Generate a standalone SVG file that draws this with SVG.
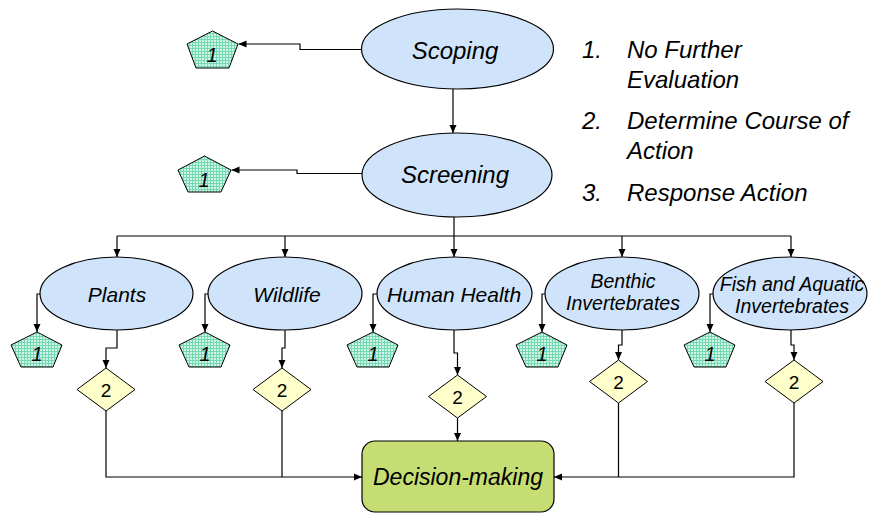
<svg xmlns="http://www.w3.org/2000/svg" width="871" height="513" viewBox="0 0 871 513">
  <style>
    text { font-family: "Liberation Sans", Arial, sans-serif; font-style: italic; fill: #000; }
    .stage { fill: #cfe4fb; stroke: #000; stroke-width: 1.2; }
    .pent { fill: url(#grid); stroke: #000; stroke-width: 1; }
    .dia { fill: #ffffcc; stroke: #000; stroke-width: 1; }
    .box { fill: #c6dd74; stroke: #000; stroke-width: 1.2; }
    .wire { fill: none; stroke: #000; stroke-width: 1.2; marker-end: url(#arrow); }
    .wire2 { fill: none; stroke: #000; stroke-width: 1.2; }
    .big { font-size: 24px; text-anchor: middle; }
    .mid { font-size: 21px; text-anchor: middle; }
    .two-line { font-size: 19.5px; text-anchor: middle; }
    .num { font-size: 20px; text-anchor: middle; }
    .two { font-size: 19px; text-anchor: middle; font-style: normal; }
    .leg { font-size: 24px; }
  </style>
  <defs>
    <pattern id="grid" width="3" height="3" patternUnits="userSpaceOnUse">
      <rect width="3" height="3" fill="#d0f4e6"/>
      <path d="M0,0.5 H3 M0.5,0 V3" stroke="#74d8b2" stroke-width="1"/>
    </pattern>
    <marker id="arrow" viewBox="0 0 8 8" refX="8" refY="4" markerWidth="8" markerHeight="8" markerUnits="userSpaceOnUse" orient="auto">
      <path d="M0,0.5 L8,4 L0,7.5 z" fill="#000"/>
    </marker>
  </defs>

  <!-- connectors -->
  <g id="connectors">
    <path class="wire" d="M362,49.5 H300 V44 H238.5"/>
    <path class="wire" d="M453,89 V133"/>
    <path class="wire" d="M362,173.5 H297 V170 H231.5"/>
    <path class="wire2" d="M454,217 V236 M117,236 H791"/>
    <path class="wire" d="M117,236 V257"/>
    <path class="wire" d="M285,236 V257"/>
    <path class="wire" d="M454,236 V257"/>
    <path class="wire" d="M622,236 V257"/>
    <path class="wire" d="M791,236 V257"/>
    <!-- to "1" pentagons -->
    <path class="wire" d="M40,294 H37 V332"/>
    <path class="wire" d="M208,294 H205 V332"/>
    <path class="wire" d="M377,294 H373 V332"/>
    <path class="wire" d="M545,294 H542 V332"/>
    <path class="wire" d="M713,294 H710 V332"/>
    <!-- to "2" diamonds -->
    <path class="wire" d="M117,330 V348 H106 V368"/>
    <path class="wire" d="M285,330 V348 H282 V368"/>
    <path class="wire" d="M454,330 V353 H457.5 V375"/>
    <path class="wire" d="M622,330 V345 H618.5 V360"/>
    <path class="wire" d="M791,330 V345 H794 V360"/>
    <!-- into decision-making -->
    <path class="wire2" d="M106,411 V477 H282 M282,411 V477"/>
    <path class="wire" d="M282,477 H362"/>
    <path class="wire2" d="M794,403 V477 H618.5 M618.5,403 V477"/>
    <path class="wire" d="M618.5,477 H554"/>
    <path class="wire" d="M457.5,418 V441"/>
  </g>

  <!-- main stages -->
  <g id="scoping">
    <ellipse class="stage" cx="457.5" cy="49" rx="96" ry="40"/>
    <text class="big" x="455" y="59">Scoping</text>
  </g>
  <g id="screening">
    <ellipse class="stage" cx="457" cy="175" rx="95" ry="42"/>
    <text class="big" x="455" y="183">Screening</text>
  </g>

  <g id="plants">
    <ellipse class="stage" cx="116.5" cy="293.5" rx="76.5" ry="36.5"/>
    <text class="mid" x="117" y="302">Plants</text>
  </g>
  <g id="wildlife">
    <ellipse class="stage" cx="285" cy="293.5" rx="77" ry="36.5"/>
    <text class="mid" x="287" y="302">Wildlife</text>
  </g>
  <g id="human-health">
    <ellipse class="stage" cx="454.5" cy="293.5" rx="77.5" ry="36.5"/>
    <text class="mid" x="454" y="302">Human Health</text>
  </g>
  <g id="benthic">
    <ellipse class="stage" cx="622" cy="293.5" rx="77" ry="36.5"/>
    <text class="two-line" x="623" y="288">Benthic</text>
    <text class="two-line" x="623" y="310">Invertebrates</text>
  </g>
  <g id="fish">
    <ellipse class="stage" cx="790" cy="293.5" rx="77" ry="36.5"/>
    <text class="two-line" x="792" y="291">Fish and Aquatic</text>
    <text class="two-line" x="792" y="313">Invertebrates</text>
  </g>

  <!-- "1" outcomes -->
  <g id="stop-scoping">
    <polygon class="pent" points="212.5,31 238,44 229,68 196,68 187,44"/>
    <text class="num" x="212" y="62">1</text>
  </g>
  <g id="stop-screening">
    <polygon class="pent" points="204.5,156 231,170 221,192 188,192 178,170"/>
    <text class="num" x="204" y="187">1</text>
  </g>
  <g id="stop-plants">
    <polygon class="pent" points="37,332 62,345 53,367 21,367 11,345"/>
    <text class="num" x="37" y="361">1</text>
  </g>
  <g id="stop-wildlife">
    <polygon class="pent" points="205,332 230,345 221,367 189,367 179,345"/>
    <text class="num" x="205" y="361">1</text>
  </g>
  <g id="stop-human-health">
    <polygon class="pent" points="373,332 398,345 389,367 357,367 347,345"/>
    <text class="num" x="373" y="361">1</text>
  </g>
  <g id="stop-benthic">
    <polygon class="pent" points="542,332 567,345 558,367 526,367 516,345"/>
    <text class="num" x="542" y="361">1</text>
  </g>
  <g id="stop-fish">
    <polygon class="pent" points="710,332 735,345 726,367 694,367 684,345"/>
    <text class="num" x="710" y="361">1</text>
  </g>

  <!-- "2" outcomes -->
  <g id="course-plants">
    <polygon class="dia" points="106,368 135,389.5 106,411 77,389.5"/>
    <text class="two" x="106" y="397">2</text>
  </g>
  <g id="course-wildlife">
    <polygon class="dia" points="282,368 311,389.5 282,411 253,389.5"/>
    <text class="two" x="282" y="397">2</text>
  </g>
  <g id="course-human-health">
    <polygon class="dia" points="457.5,375 486.5,396.5 457.5,418 428.5,396.5"/>
    <text class="two" x="457.5" y="404">2</text>
  </g>
  <g id="course-benthic">
    <polygon class="dia" points="618.5,360 647.5,381.5 618.5,403 589.5,381.5"/>
    <text class="two" x="618.5" y="389">2</text>
  </g>
  <g id="course-fish">
    <polygon class="dia" points="794,360 823,381.5 794,403 765,381.5"/>
    <text class="two" x="794" y="389">2</text>
  </g>

  <g id="decision-making">
    <rect class="box" x="362" y="441" width="192" height="71" rx="13" ry="13"/>
    <text x="458" y="485" font-size="23" text-anchor="middle">Decision-making</text>
  </g>

  <!-- legend -->
  <g id="legend">
    <text class="leg" x="582" y="58">1.</text>
    <text class="leg" x="627" y="58">No Further</text>
    <text class="leg" x="627" y="88">Evaluation</text>
    <text class="leg" x="582" y="129">2.</text>
    <text class="leg" x="627" y="129">Determine Course of</text>
    <text class="leg" x="627" y="159">Action</text>
    <text class="leg" x="582" y="201">3.</text>
    <text class="leg" x="627" y="201">Response Action</text>
  </g>
</svg>
